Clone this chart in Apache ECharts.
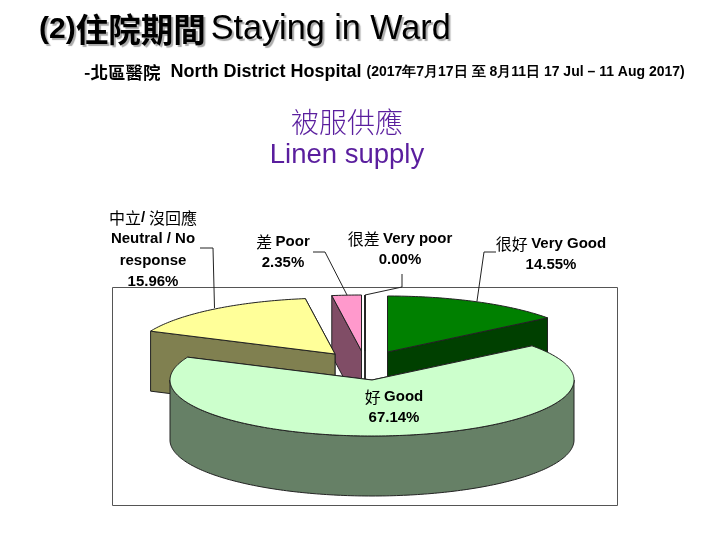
<!DOCTYPE html>
<html><head><meta charset="utf-8">
<style>html,body{margin:0;padding:0;background:#fff}#c{width:720px;height:540px}</style>
<script src="https://cdn.jsdelivr.net/npm/echarts@6/dist/echarts.min.js"></script>
</head><body><div id="c"></div>
<script>
// data, in pie order (clockwise from 12 o'clock)
const categoriesEn = ['Very Good', 'Good', 'Neutral / No response', 'Poor', 'Very poor'];
const categoriesZh = ['很好', '好', '中立/ 沒回應', '差', '很差'];
const values = [14.55, 67.14, 15.96, 2.35, 0.00];
const topColors = ['#008000', '#CCFFCC', '#FFFF99', '#FF99CC', '#FFFFFF'];
const wallColors = ['#004000', '#668066', '#808050', '#804D66', '#FFFFFF'];

// layout
const RX = 202, RY = 56, DEPTH = 60;
const apexes = [[387.5, 352], [372, 380], [335, 354], [361.5, 351], [365, 351]];
const drawRank = [2, 5, 3, 1, 0];
const labelPos = [[551, 244], [394, 397], [153, 218], [283, 242], [400, 239]];
const leaders = [
  [[496, 252], [484, 252], [477, 301]],
  null,
  [[200, 248], [213, 248], [214.5, 308]],
  [[313, 252], [325, 252], [347, 295]],
  [[402, 274], [402, 287], [365, 295]]
];
const LATIN = '"Liberation Sans",Arial,sans-serif';
const CJK = '"Noto Sans CJK TC",sans-serif';
const STROKE = '#222';

function rim(c, deg) {
  const t = deg * Math.PI / 180;
  return [c[0] + RX * Math.sin(t), c[1] - RY * Math.cos(t)];
}
function arc(c, a, b, dy) {
  const pts = [], n = Math.max(1, Math.ceil(Math.abs(b - a)));
  for (let i = 0; i <= n; i++) {
    const p = rim(c, a + (b - a) * i / n);
    pts.push([p[0], p[1] + (dy || 0)]);
  }
  return pts;
}
const starts = [];
values.reduce((s, v, i) => { starts[i] = s; return s + v; }, 0);

function poly(points, fill, z2) {
  return { type: 'polygon', z2: z2, shape: { points: points },
    style: { fill: fill, stroke: STROKE, lineWidth: 1, lineJoin: 'round' } };
}
function labelRows(i) {
  const pct = values[i].toFixed(2) + '%';
  if (i === 2) return [
    '{z|' + categoriesZh[i].replace('/', '}{s|/}{z|') + '}',
    '{e|Neutral / No}', '{e|response}', '{e|' + pct + '}'];
  return ['{z|' + categoriesZh[i] + '} {e|' + categoriesEn[i] + '}', '{e|' + pct + '}'];
}
const rich = {
  z: { fontFamily: CJK, fontSize: 16, fontWeight: 400, color: '#111' },
  s: { fontFamily: LATIN, fontSize: 15, fontWeight: 700, color: '#111' },
  e: { fontFamily: LATIN, fontSize: 15, fontWeight: 700, color: '#111' }
};

function renderSlice(params, api) {
  const i = params.dataIndex, c = apexes[i];
  const a = api.value(1) * 3.6, b = (api.value(1) + api.value(0)) * 3.6;
  const base = drawRank[i] * 100, ch = [];
  const face = (d) => {
    const r = rim(c, d);
    return [r, c, [c[0], c[1] + DEPTH], [r[0], r[1] + DEPTH]];
  };
  [a, b].sort((p, q) => rim(c, p)[1] - rim(c, q)[1]).forEach((d, k) =>
    ch.push(poly(face(d), wallColors[i], base + k)));
  const wa = Math.max(a, 90), wb = Math.min(b, 270);
  if (wb > wa) ch.push(poly(arc(c, wa, wb, 0).concat(arc(c, wb, wa, DEPTH)), wallColors[i], base + 3));
  ch.push(poly([c].concat(arc(c, a, b, 0)), topColors[i], base + 4));
  if (leaders[i]) ch.push({ type: 'polyline', z2: 900, shape: { points: leaders[i] },
    style: { fill: 'none', stroke: STROKE, lineWidth: 1 } });
  const rows = labelRows(i), step = 21.3;
  rows.forEach((t, k) => ch.push({ type: 'text', z2: 1000, style: {
    x: labelPos[i][0], y: labelPos[i][1] + k * step, text: t, rich: rich,
    align: 'center', verticalAlign: 'middle' } }));
  return { type: 'group', children: ch };
}

const chart = echarts.init(document.getElementById('c'), null, { renderer: 'canvas' });
const titleShadow = { textShadowColor: '#aaa', textShadowOffsetX: 2, textShadowOffsetY: 2, textShadowBlur: 1 };
chart.setOption({
  animation: false,
  backgroundColor: '#fff',
  title: [
    { left: 39, top: 12, padding: 0,
      text: '{n|(2)}{a|住院期間} {b|Staying in Ward}',
      textStyle: Object.assign({ rich: {
        n: Object.assign({ fontFamily: LATIN, fontSize: 30, fontWeight: 700, color: '#000', lineHeight: 36 }, titleShadow),
        a: Object.assign({ fontFamily: CJK, fontSize: 32.5, fontWeight: 700, color: '#000', lineHeight: 36 }, titleShadow),
        b: Object.assign({ fontFamily: LATIN, fontSize: 34.2, fontWeight: 400, color: '#000', lineHeight: 36 }, titleShadow)
      } }, titleShadow) },
    { left: 84, top: 60, padding: 0,
      text: '{a|-北區醫院}  {b|North District Hospital} {c|(2017年7月17日 至 8月11日 17 Jul – 11 Aug 2017)}',
      textStyle: { rich: {
        a: { fontFamily: CJK, fontSize: 17.5, fontWeight: 700, color: '#000', lineHeight: 24 },
        b: { fontFamily: LATIN, fontSize: 18, fontWeight: 700, color: '#000', lineHeight: 24 },
        c: { fontFamily: LATIN, fontSize: 14, fontWeight: 700, color: '#000', lineHeight: 24 }
      } } },
    { left: 347, top: 103, padding: 0, textAlign: 'center', text: '被服供應',
      textStyle: { fontFamily: CJK, fontSize: 28, fontWeight: 300, color: '#5A1E9E', lineHeight: 38 } },
    { left: 347, top: 137, padding: 0, textAlign: 'center', text: 'Linen supply',
      textStyle: { fontFamily: LATIN, fontSize: 27.5, fontWeight: 400, color: '#5A1E9E', lineHeight: 36 } }
  ],
  graphic: [{ type: 'rect', z: 0, shape: { x: 112.5, y: 287.5, width: 505, height: 218 },
    style: { fill: 'none', stroke: '#555', lineWidth: 1 } }],
  series: [{
    type: 'custom', coordinateSystem: 'none', z: 2,
    encode: { value: 0 },
    data: values.map((v, i) => [v, starts[i]]),
    renderItem: renderSlice
  }]
});
</script></body></html>
